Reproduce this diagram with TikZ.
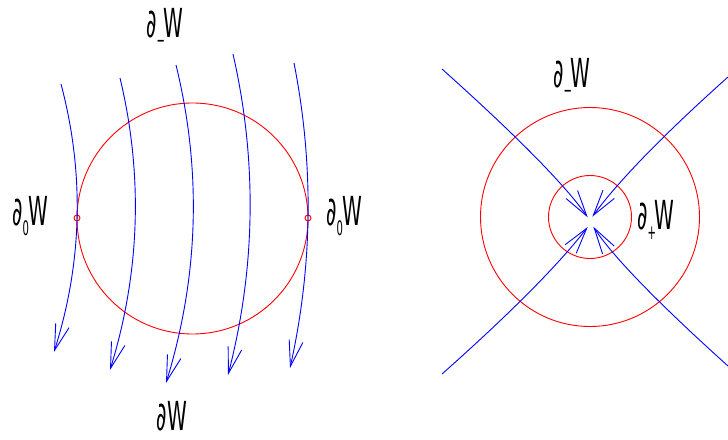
\documentclass[tikz,border=0pt]{standalone}
\usepackage{fontspec}
\usepackage{graphicx}
\usetikzlibrary{arrows.meta,calc}
\newfontfamily\lblfont[FakeStretch=0.5]{DejaVu Sans}
\newcommand\dlab[2]{{\lblfont\fontsize{40}{40}\selectfont ∂\raisebox{-10pt}{\fontsize{20}{20}\selectfont #1}\kern#2 W}}
\begin{document}
\begin{tikzpicture}[x=1pt,y=-1pt,
  flow/.style={blue,line width=0.9pt,-{Straight Barb[length=26pt,width=14pt]}},
  bound/.style={red,line width=0.9pt},
  lbl/.style={anchor=base west,inner sep=0pt,text=black}]
\useasboundingbox (0,0) rectangle (728,439);
% ---------- left picture ----------
\draw[bound] (192.5,218.5) circle[radius=115.5];
\draw[bound] (77,218) circle[radius=3];
\draw[bound] (308,218) circle[radius=3];
\foreach \sx/\sy/\cx/\cy/\ex/\ey [count=\i] in {
  61/84/96.5/218/54/352,
  120/78/155/224/110/370,
  176/65/215/224/166/383,
  233/54/269.5/214.5/228/375,
  294/63/324/215.5/290/368}{
  \coordinate (s\i) at (\sx,\sy);
  \coordinate (c\i) at (\cx,\cy);
  \coordinate (e\i) at (\ex,\ey);
  \draw[flow] (s\i) .. controls ($(s\i)!2/3!(c\i)$) and ($(e\i)!2/3!(c\i)$) .. (e\i);
}
\node[lbl] (tl) at (146,37) {\dlab{−}{-1pt}};
\node[lbl] (bl) at (156,430) {\dlab{}{1pt}};
\node[lbl] (ll) at (12,225) {\dlab{0}{0pt}};
\node[lbl] (rl) at (326,225) {\dlab{0}{0pt}};
% ---------- right picture ----------
\draw[bound] (590,217) circle[radius=109.5];
\draw[bound] (590,217) circle[radius=41.5];
\foreach \sx/\sy/\cx/\cy/\ex/\ey [count=\i] in {
  442/69/554.5/169.7/587.7/217.3,
  728/77/631/163.7/592.3/216.7,
  442/374/544.2/283.3/587.7/227,
  728/366/621.5/270.1/593.3/226.7}{
  \coordinate (rs\i) at (\sx,\sy);
  \coordinate (rc\i) at (\cx,\cy);
  \coordinate (re\i) at (\ex,\ey);
  \draw[flow] (rs\i) .. controls ($(rs\i)!2/3!(rc\i)$) and ($(re\i)!2/3!(rc\i)$) .. (re\i);
}
\node[lbl] (tr) at (553,87) {\dlab{−}{-1pt}};
\node[lbl] (pr) at (637,229) {\dlab{+}{-1pt}};
\end{tikzpicture}
\end{document}
